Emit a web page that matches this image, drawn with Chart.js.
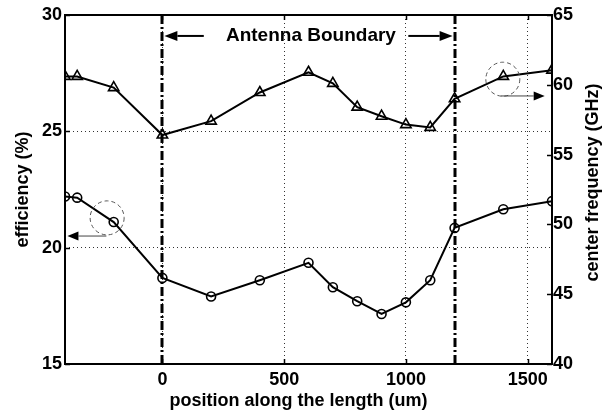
<!DOCTYPE html>
<html><head><meta charset="utf-8">
<script src="https://cdn.jsdelivr.net/npm/chart.js@4.4.0/dist/chart.umd.min.js"></script>
<style>html,body{margin:0;padding:0;background:#fff}canvas{display:block}</style>
</head><body>
<canvas id="c" width="613" height="414"></canvas>
<script>
// ---- data ----
const positions = [-400, -350, -200, 0, 200, 400, 600, 700, 800, 900, 1000, 1100, 1200, 1400, 1600];
const efficiency = [22.2, 22.15, 21.1, 18.7, 17.9, 18.6, 19.35, 18.3, 17.7, 17.15, 17.65, 18.6, 20.85, 21.65, 22.0];
const centerFreq = [60.6, 60.6, 59.8, 56.4, 57.4, 59.45, 60.9, 60.1, 58.4, 57.75, 57.15, 56.95, 59.0, 60.6, 61.05];
const xTicks = [0, 500, 1000, 1500];
const effTicks = [15, 20, 25, 30];
const freqTicks = [40, 45, 50, 55, 60, 65];
const boundaries = [0, 1200];
const boundaryLabel = 'Antenna Boundary';
const xTitle = 'position along the length (um)';
const effTitle = 'efficiency (%)';
const freqTitle = 'center frequency (GHz)';

const FONT = '"Liberation Sans", Arial, sans-serif';
const pts = (xs, ys) => xs.map((x, i) => ({x: x, y: ys[i]}));

function arrow(ctx, x0, y0, x1, y1, lineColor, headLen, headW) {
  const ang = Math.atan2(y1 - y0, x1 - x0);
  const bx = x1 - Math.cos(ang) * headLen, by = y1 - Math.sin(ang) * headLen;
  ctx.strokeStyle = lineColor;
  ctx.beginPath(); ctx.moveTo(x0, y0); ctx.lineTo(bx, by); ctx.stroke();
  ctx.fillStyle = '#000';
  ctx.beginPath();
  ctx.moveTo(x1, y1);
  ctx.lineTo(bx - Math.sin(ang) * headW, by + Math.cos(ang) * headW);
  ctx.lineTo(bx + Math.sin(ang) * headW, by - Math.cos(ang) * headW);
  ctx.closePath(); ctx.fill();
}

const overlay = {
  id: 'overlay',
  beforeDatasetsDraw(chart) {
    const {ctx, chartArea: a, scales: {x}} = chart;
    ctx.save();
    ctx.strokeStyle = '#000'; ctx.lineWidth = 3; ctx.setLineDash([9, 3, 2, 3]);
    boundaries.forEach(v => {
      const px = Math.round(x.getPixelForValue(v));
      ctx.beginPath(); ctx.moveTo(px, a.top); ctx.lineTo(px, a.bottom); ctx.stroke();
    });
    ctx.restore();
  },
  afterDraw(chart) {
    const {ctx, chartArea: a, scales: {x, y, y1}} = chart;
    ctx.save();
    // inward ticks
    ctx.strokeStyle = '#000'; ctx.lineWidth = 1.5; ctx.setLineDash([]);
    const tl = 5;
    xTicks.forEach(v => {
      const px = Math.round(x.getPixelForValue(v)) + 0.5;
      ctx.beginPath(); ctx.moveTo(px, a.bottom); ctx.lineTo(px, a.bottom - tl);
      ctx.moveTo(px, a.top); ctx.lineTo(px, a.top + tl); ctx.stroke();
    });
    effTicks.forEach(v => {
      const py = Math.round(y.getPixelForValue(v)) + 0.5;
      ctx.beginPath(); ctx.moveTo(a.left, py); ctx.lineTo(a.left + tl, py); ctx.stroke();
    });
    freqTicks.forEach(v => {
      const py = Math.round(y1.getPixelForValue(v)) + 0.5;
      ctx.beginPath(); ctx.moveTo(a.right, py); ctx.lineTo(a.right - tl, py); ctx.stroke();
    });
    // box
    ctx.lineWidth = 2;
    ctx.strokeRect(a.left, a.top, a.right - a.left, a.bottom - a.top);

    // Antenna boundary label + arrows
    const ly = y.getPixelForValue(29.1);
    ctx.fillStyle = '#000';
    ctx.font = 'bold 19px ' + FONT;
    ctx.textAlign = 'center'; ctx.textBaseline = 'middle';
    ctx.fillText(boundaryLabel, x.getPixelForValue(610), ly);
    ctx.lineWidth = 2;
    arrow(ctx, x.getPixelForValue(170), ly, x.getPixelForValue(0) + 2, ly, '#000', 13, 5);
    arrow(ctx, x.getPixelForValue(1010), ly, x.getPixelForValue(1200) - 2, ly, '#000', 13, 5);

    // dashed circles with axis-pointing arrows
    ctx.lineWidth = 1; ctx.strokeStyle = '#555'; ctx.setLineDash([4, 3]);
    ctx.beginPath(); ctx.arc(x.getPixelForValue(-227), y.getPixelForValue(21.28), 17, 0, Math.PI * 2); ctx.stroke();
    ctx.beginPath(); ctx.arc(x.getPixelForValue(1398), y1.getPixelForValue(60.4), 17, 0, Math.PI * 2); ctx.stroke();
    ctx.setLineDash([]);
    const ay1 = y.getPixelForValue(20.5);
    arrow(ctx, x.getPixelForValue(-230), ay1, x.getPixelForValue(-390), ay1, '#444', 11, 4.5);
    const ay2 = y1.getPixelForValue(59.2);
    arrow(ctx, x.getPixelForValue(1390), ay2, x.getPixelForValue(1570), ay2, '#444', 11, 4.5);

    // right axis title (reads bottom to top)
    ctx.font = 'bold 18px ' + FONT;
    ctx.fillStyle = '#000';
    ctx.translate(593, (a.top + a.bottom) / 2 - 7);
    ctx.rotate(-Math.PI / 2);
    ctx.textAlign = 'center'; ctx.textBaseline = 'middle';
    ctx.fillText(freqTitle, 0, 0);
    ctx.restore();
  }
};

const tickFont = {family: FONT, size: 18, weight: 'bold'};
const titleFont = {family: FONT, size: 18, weight: 'bold'};
const gridStyle = {color: '#333', lineWidth: 1, drawTicks: false};
const plain = v => String(v);

new Chart(document.getElementById('c'), {
  type: 'scatter',
  data: {
    datasets: [
      {
        label: 'efficiency', data: pts(positions, efficiency), yAxisID: 'y', showLine: true,
        borderColor: '#000', borderWidth: 2, pointStyle: 'circle', pointRadius: 4.5,
        pointBorderWidth: 1.6, pointBackgroundColor: 'rgba(0,0,0,0)', pointBorderColor: '#000'
      },
      {
        label: 'center frequency', data: pts(positions, centerFreq), yAxisID: 'y1', showLine: true,
        borderColor: '#000', borderWidth: 2, pointStyle: 'triangle', pointRadius: 6,
        pointBorderWidth: 1.6, pointBackgroundColor: 'rgba(0,0,0,0)', pointBorderColor: '#000'
      }
    ]
  },
  options: {
    responsive: false, animation: false, devicePixelRatio: 1,
    layout: {padding: {top: 15, left: 0, right: 0, bottom: 0}},
    plugins: {legend: {display: false}, tooltip: {enabled: false}},
    elements: {line: {tension: 0}},
    scales: {
      x: {
        type: 'linear', position: 'bottom', min: -400, max: 1600,
        afterBuildTicks: s => { s.ticks = xTicks.map(v => ({value: v})); },
        afterFit: s => { s.height = 50; },
        grid: gridStyle, border: {display: false, dash: [1, 3]},
        ticks: {font: tickFont, color: '#000', padding: 5, maxRotation: 0, callback: plain},
        title: {display: true, text: xTitle + '\u00a0\u00a0\u00a0\u00a0', font: titleFont, color: '#000', padding: {top: 0, bottom: 2}}
      },
      y: {
        type: 'linear', position: 'left', min: 15, max: 30,
        afterBuildTicks: s => { s.ticks = effTicks.map(v => ({value: v})); },
        afterFit: s => { s.width = 65; },
        grid: gridStyle, border: {display: false, dash: [1, 3]},
        ticks: {font: tickFont, color: '#000', padding: 3, callback: plain},
        title: {display: true, text: effTitle, font: titleFont, color: '#000', padding: {top: 12, bottom: 0}}
      },
      y1: {
        type: 'linear', position: 'right', min: 40, max: 65,
        afterBuildTicks: s => { s.ticks = freqTicks.map(v => ({value: v})); },
        afterFit: s => { s.width = 61; },
        grid: {display: false, drawTicks: false}, border: {display: false},
        ticks: {font: tickFont, color: '#000', padding: 1, callback: plain}
      }
    }
  },
  plugins: [overlay]
});
</script>
</body></html>
